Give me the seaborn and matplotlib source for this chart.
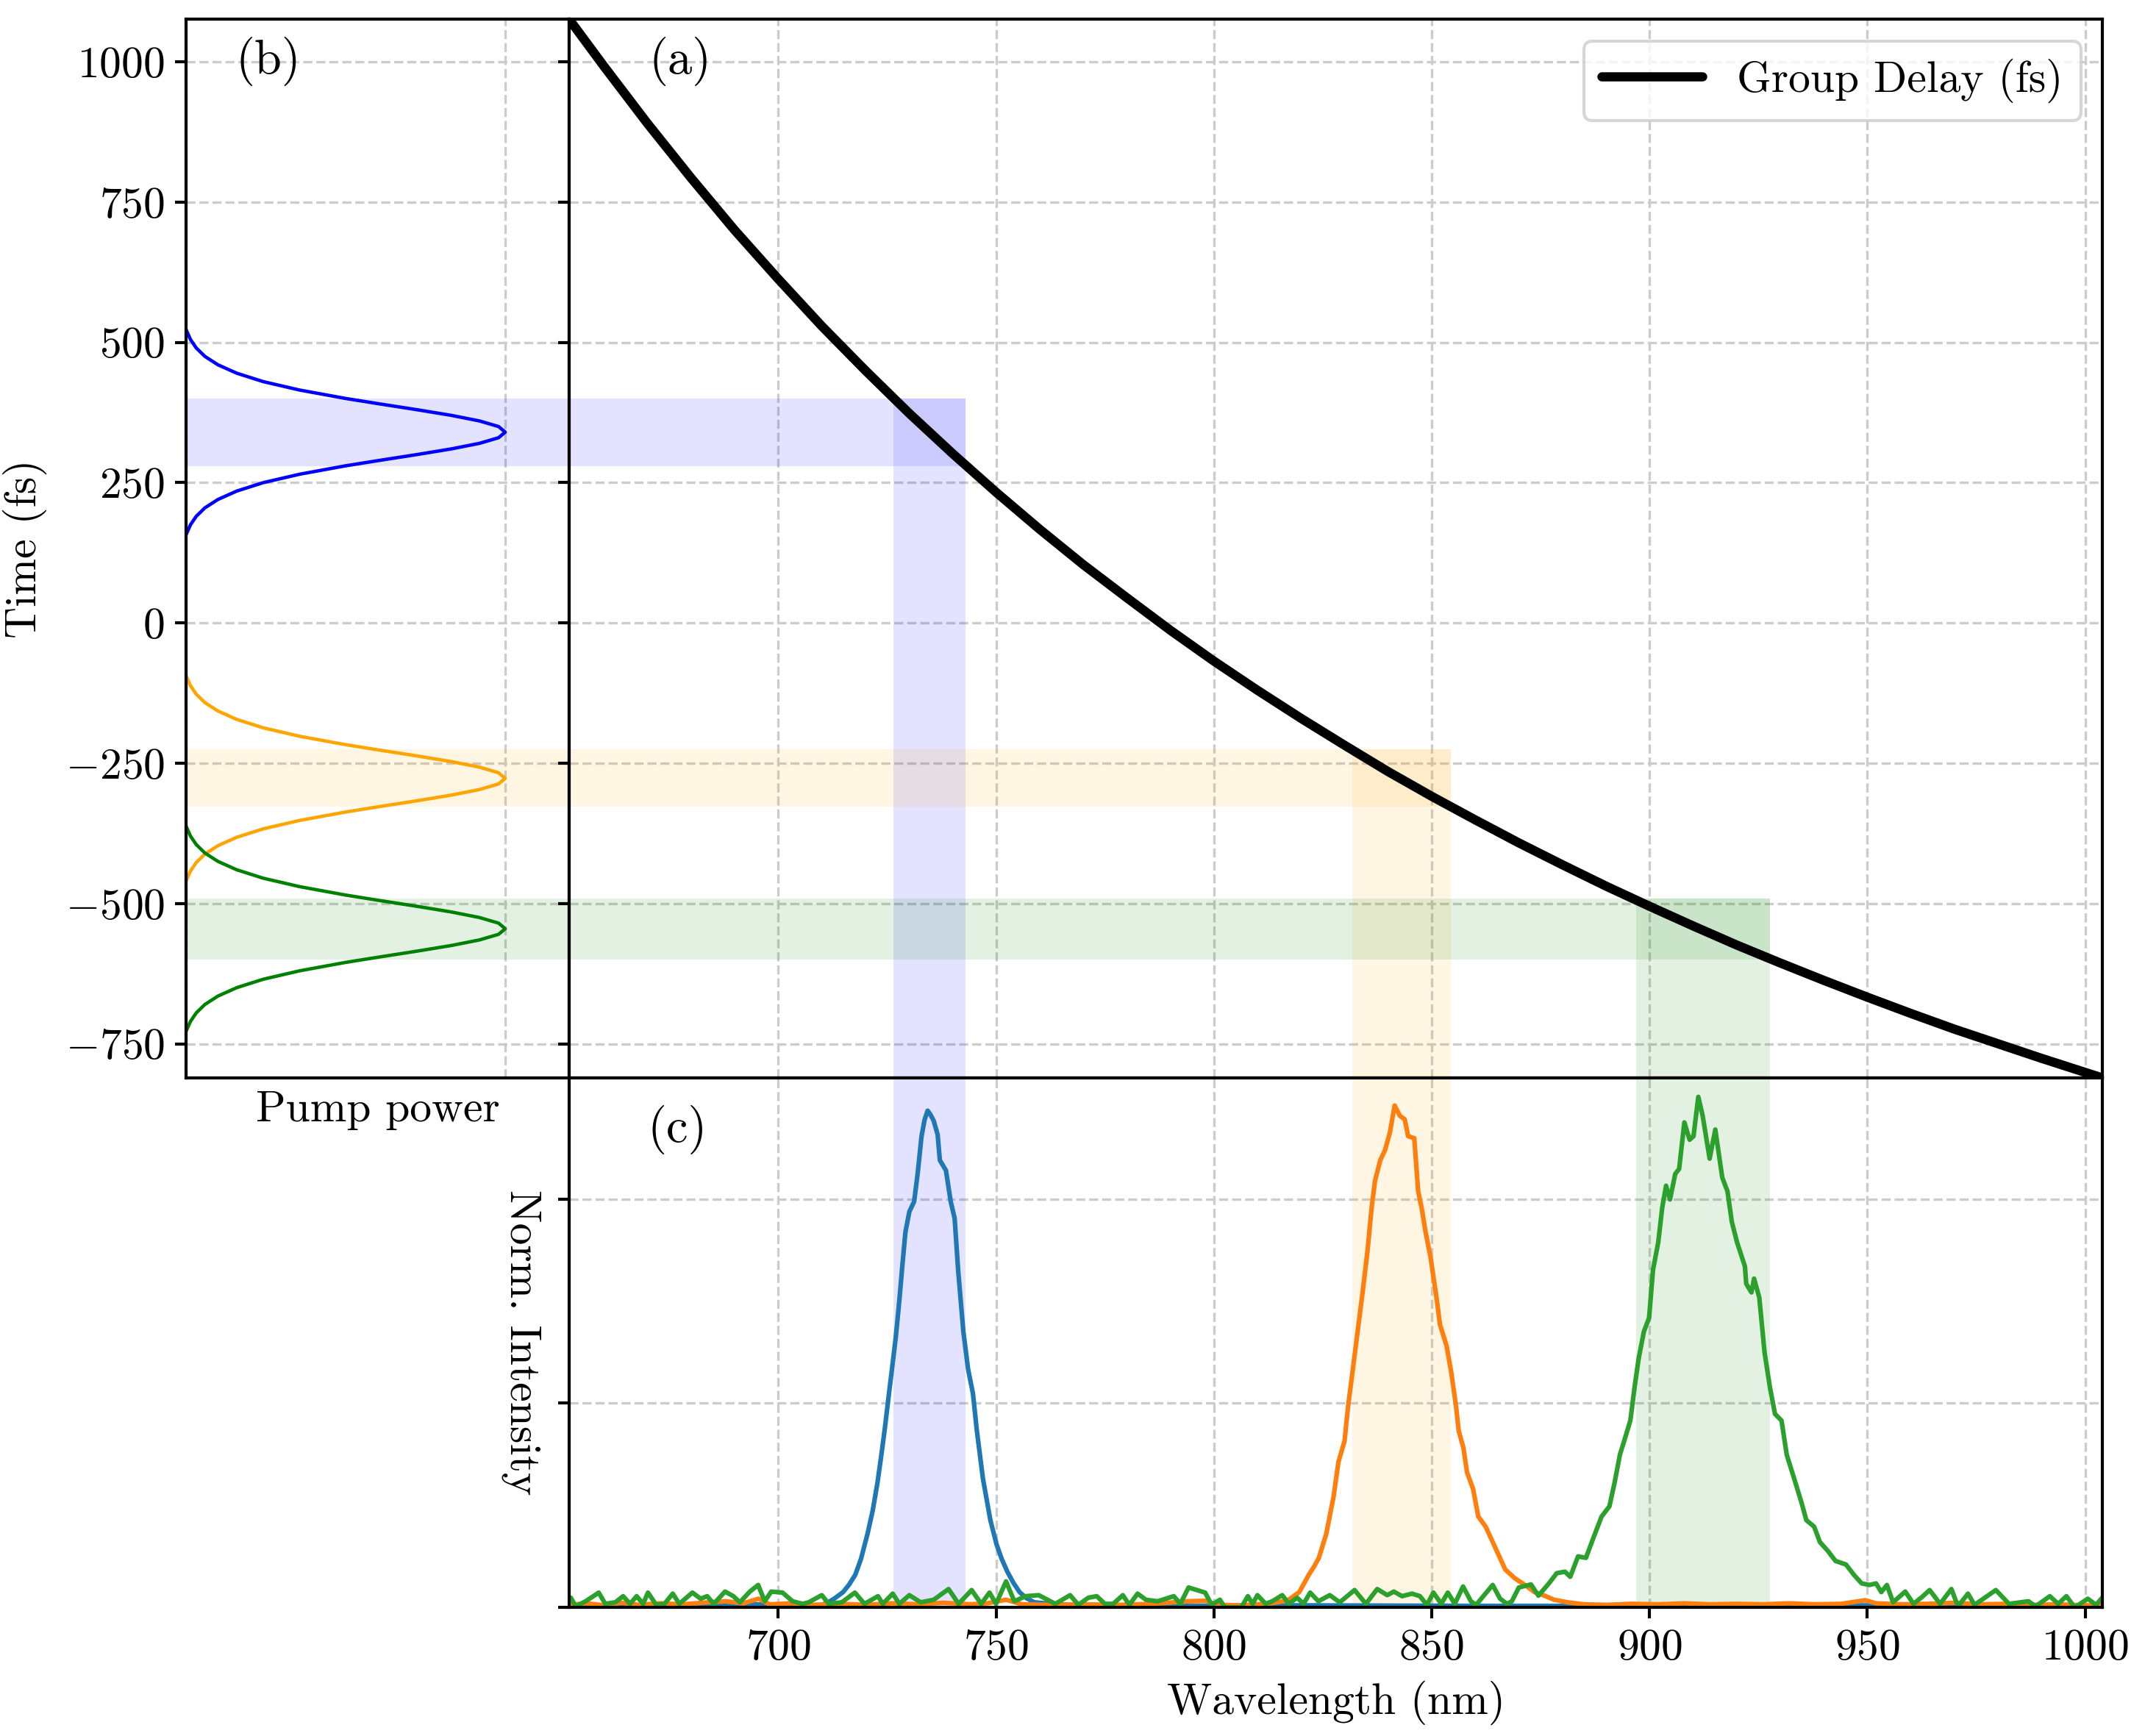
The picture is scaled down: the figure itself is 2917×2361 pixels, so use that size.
import numpy as np
import pandas as pd
import matplotlib
matplotlib.use('Agg')
import matplotlib.pyplot as plt
import seaborn as sns

# group delay of the dispersive element
gd_wl = [652, 660, 670, 680, 690, 700, 710, 720, 730, 740, 750, 760, 770, 780,
         790, 800, 810, 820, 830, 840, 850, 860, 870, 880, 890, 900, 910, 920,
         930, 940, 950, 960, 970, 980, 990, 1000, 1004]
gd_fs = [1076, 992, 890, 793, 700, 613, 529, 450, 374, 302, 233, 167, 104, 45,
         -13, -68, -120, -170, -218, -265, -309, -351, -392, -431, -469, -505,
         -540, -574, -606, -637, -667, -696, -724, -750, -776, -801, -811]

# pump pulses: time offset from pulse centre and normalised power
pump_offset = [-183, -165, -150, -135, -120, -105, -90, -75, -60, -50, -40, -30,
               -20, -10, 0, 10, 20, 30, 40, 50, 60, 75, 90, 105, 120, 135, 150,
               165, 183]
pump_shape = [0.0, 0.014, 0.032, 0.059, 0.100, 0.159, 0.242, 0.356, 0.500, 0.610,
              0.723, 0.830, 0.919, 0.979, 1.0, 0.979, 0.919, 0.830, 0.723, 0.610,
              0.500, 0.356, 0.242, 0.159, 0.100, 0.059, 0.032, 0.014, 0.0]
pump_centre = {'blue': 340, 'orange': -277, 'green': -545}

# selected bands: wavelength window and matching delay window
band_wl = {'blue': (726.5, 743.0), 'orange': (831.7, 854.4), 'green': (897.0, 927.6)}
band_t = {'blue': (279, 400), 'orange': (-328, -225), 'green': (-600, -491)}

# measured spectra (wavelength nm, normalised intensity)
blue_spec = [
    (652, .003), (665, .002), (680, .003), (695, .006), (705, .003), (710, .005),
    (711.5, .010), (713, .018), (714.9, .030), (716.3, .045), (717.7, .064),
    (719, .095), (720.5, .144), (721.7, .190), (722.8, .245), (723.7, .300),
    (724.5, .352), (725.3, .410), (726.1, .466), (727, .530), (727.8, .601),
    (728.5, .670), (729.2, .735), (730.1, .775), (731.2, .795), (732.0, .849),
    (732.9, .923), (733.6, .955), (734.3, .973), (734.9, .966), (735.7, .953),
    (736.6, .926), (737.1, .876), (737.8, .866), (738.5, .856), (739.6, .795),
    (740.5, .762), (741.3, .661), (742.5, .540), (743.6, .466), (744.7, .419),
    (745.6, .346), (747.0, .252), (748.7, .171), (750.1, .124), (751.3, .095),
    (752.6, .070), (754, .048), (755.4, .030), (757, .018), (758.8, .010),
    (762.7, .007), (770, .004), (790, .003), (820, .004), (860, .003),
    (900, .003), (950, .004), (1004, .003)]

orange_spec = [
    (652, .005), (656, .008), (660, .004), (664, .009), (668, .005), (673, .008),
    (678, .006), (684, .010), (688, .012), (692, .008), (695.5, .017), (698, .006),
    (703, .008), (708, .005), (714, .007), (720, .005), (726, .008), (732, .006),
    (738, .009), (744, .006), (748, .008), (752.3, .015), (756, .006), (762, .005),
    (770, .006), (778, .005), (786, .007), (794, .012), (798, .013), (801, .005),
    (806, .004), (810, .006), (813, .008), (816.8, .013), (818, .020),
    (819.6, .030), (821.8, .064), (823, .080), (824.1, .097), (825.8, .144),
    (827.5, .218), (828.6, .285), (830.0, .326), (830.8, .393), (832.0, .473),
    (833.1, .547), (834.2, .621), (835.3, .701), (836.2, .782), (837.0, .836),
    (838.2, .876), (839.3, .896), (840.4, .930), (841.5, .983), (842.7, .963),
    (843.8, .956), (844.6, .923), (846.0, .919), (846.9, .815), (847.7, .782),
    (848.6, .735), (849.7, .688), (851.1, .607), (851.9, .554), (853.4, .513),
    (854.5, .460), (855.6, .393), (856.2, .346), (857.3, .312), (858.1, .265),
    (859.5, .232), (860.7, .178), (862.4, .158), (864.6, .117), (866.9, .074),
    (869.1, .057), (871.4, .044), (873.6, .030), (875.9, .023), (878.1, .015),
    (881.2, .010), (885, .006), (890, .005), (896, .007), (902, .006),
    (908, .008), (914, .006), (920, .007), (926, .006), (932, .008), (938, .006),
    (944, .007), (949.5, .014), (952, .008), (958, .006), (964, .007),
    (970, .009), (976, .006), (982, .007), (988, .005), (994, .006),
    (1000, .004), (1004, .005)]

green_spec = [
    (652.4, .019), (653.5, .002), (655.8, .012), (658.8, .029), (660.3, .007),
    (662.6, .010), (664.4, .022), (666.0, .007), (667.5, .022), (669.0, .007),
    (670.1, .029), (672.0, .005), (673.9, .007), (675.8, .027), (677.3, .007),
    (680.3, .029), (682.2, .017), (683.7, .022), (685.2, .007), (687.8, .031),
    (689.7, .022), (691.2, .010), (693.5, .031), (695.4, .044), (696.9, .012),
    (698.4, .031), (701.0, .029), (703.3, .012), (705.6, .007), (707.0, .010),
    (710.0, .024), (711.6, .007), (714.6, .010), (717.6, .029), (719.8, .007),
    (722.9, .022), (724.0, .007), (726.3, .027), (727.8, .007), (730.1, .024),
    (732.7, .010), (735.7, .015), (739.1, .036), (741.4, .007), (744.4, .034),
    (746.6, .007), (748.5, .029), (750.0, .007), (752.3, .051), (754.2, .012),
    (756.8, .022), (759.8, .024), (763.6, .007), (767.0, .024), (768.9, .005),
    (771.2, .019), (773.1, .022), (775.0, .007), (776.9, .007), (779.1, .024),
    (780.6, .005), (782.5, .027), (784.4, .015), (787.1, .012), (790.8, .022),
    (792.3, .007), (794.2, .039), (796.1, .034), (798.0, .029), (799.5, .005),
    (801.4, .015), (802.5, .000), (806.3, .000), (807.8, .022), (808.9, .007),
    (810.0, .024), (811.9, .007), (813.4, .012), (815.7, .024), (817.2, .007),
    (819.1, .019), (820.6, .007), (822.1, .029), (824.0, .012), (826.6, .024),
    (828.9, .010), (832.3, .034), (834.9, .007), (837.5, .036), (839.8, .024),
    (841.3, .031), (843.2, .022), (845.5, .027), (847.3, .022), (848.9, .005),
    (850.4, .029), (852.2, .007), (853.7, .029), (855.3, .007), (857.2, .041),
    (859.0, .012), (860.2, .005), (864.0, .044), (865.7, .017), (867.3, .007),
    (868.4, .012), (870.0, .039), (872.8, .045), (874.5, .023), (876.9, .047),
    (878.7, .067), (880.6, .070), (881.8, .060), (883.6, .100), (885.4, .097),
    (887.2, .138), (889.0, .178), (890.8, .198), (892.0, .245), (893.2, .299),
    (894.4, .332), (895.6, .366), (896.6, .433), (897.5, .487), (898.7, .540),
    (899.9, .567), (900.8, .661), (902.0, .715), (902.9, .782), (903.8, .826),
    (904.7, .799), (905.9, .849), (906.8, .859), (908.0, .950), (909.2, .916),
    (910.1, .923), (911.2, 1.0), (912.2, .963), (913.8, .879), (915.1, .936),
    (916.7, .842), (917.9, .815), (918.9, .755), (920.1, .715), (921.9, .668),
    (922.2, .634), (923.4, .617), (924.0, .644), (925.2, .607), (926.4, .500),
    (927.6, .433), (928.8, .379), (930.3, .366), (931.5, .299), (933.0, .258),
    (934.9, .205), (936.0, .171), (937.8, .158), (939.1, .128), (940.9, .111),
    (942.7, .091), (945.1, .084), (946.9, .064), (948.7, .047), (950.5, .044),
    (952.0, .047), (953.2, .030), (954.5, .044), (955.9, .010), (958.7, .031),
    (960.6, .007), (962.5, .020), (964.3, .034), (966.7, .007), (969.3, .036),
    (970.8, .002), (973.1, .027), (974.6, .005), (979.5, .034), (982.5, .007),
    (987.0, .012), (988.6, .002), (991.9, .022), (993.8, .007), (995.7, .022),
    (997.6, .000), (1000.6, .017), (1002.5, .005), (1004.2, .022)]

wl_ticks = [700, 750, 800, 850, 900, 950, 1000]
t_ticks = [-750, -500, -250, 0, 250, 500, 750, 1000]

sns.set_theme(style='ticks', rc={
    'axes.grid': True, 'grid.linestyle': '--', 'grid.color': '#cccccc',
    'grid.linewidth': 0.8, 'axes.edgecolor': 'black', 'axes.linewidth': 1.0,
    'xtick.color': 'black', 'ytick.color': 'black', 'text.color': 'black',
    'axes.labelcolor': 'black', 'xtick.major.width': 1.0, 'ytick.major.width': 1.0,
})
plt.rcParams['font.family'] = ['cmr10', 'DejaVu Serif']
plt.rcParams['mathtext.fontset'] = 'cm'
plt.rcParams['axes.formatter.use_mathtext'] = True
plt.rcParams['axes.unicode_minus'] = True

fs = 14.3
fig = plt.figure(figsize=(2917 / 300, 2361 / 300), dpi=300)
ax_b = fig.add_axes([0.08673, 0.37904, 0.17857, 0.60993])
ax_a = fig.add_axes([0.26531, 0.37904, 0.71492, 0.60993], sharey=ax_b)
ax_c = fig.add_axes([0.26531, 0.07407, 0.71492, 0.30497], sharex=ax_a)

xmin, xmax = 652, 1004
tmin, tmax = -811, 1076

# (a) group delay
sns.lineplot(x=gd_wl, y=gd_fs, color='black', lw=3, ax=ax_a,
             label='Group Delay (fs)', sort=False, estimator=None, zorder=5)
for c in ['blue', 'orange', 'green']:
    w0, w1 = band_wl[c]
    t0, t1 = band_t[c]
    ax_a.fill_between([xmin, w1], t0, t1, color=c, alpha=0.11, lw=0)
    ax_a.fill_between([w0, w1], tmin, t1, color=c, alpha=0.11, lw=0)
ax_a.set_xlim(xmin, xmax)
ax_a.set_ylim(tmin, tmax)
ax_a.tick_params(axis='x', bottom=False, labelbottom=False)
ax_a.tick_params(axis='y', left=True, labelleft=False, length=3.5)
ax_a.legend(loc='upper right', fontsize=fs, handlelength=2.3, fancybox=True,
            edgecolor='#cccccc')
ax_a.text(0.052, 0.96, '(a)', transform=ax_a.transAxes, fontsize=16, va='center')

# (b) pump pulses
for c in ['blue', 'orange', 'green']:
    t = [pump_centre[c] + o for o in pump_offset]
    sns.lineplot(x=pump_shape, y=t, color=c, lw=1.1, ax=ax_b, sort=False,
                 estimator=None)
    ax_b.axhspan(band_t[c][0], band_t[c][1], color=c, alpha=0.11, lw=0)
ax_b.set_xlim(0, 1.2)
ax_b.set_xticks([0, 1.0])
ax_b.set_yticks(t_ticks)
ax_b.tick_params(axis='x', bottom=False, labelbottom=False)
ax_b.tick_params(axis='y', labelsize=fs, length=3.5)
ax_b.set_xlabel('Pump power', fontsize=fs)
ax_b.set_ylabel('Time (fs)', fontsize=fs, labelpad=6)
ax_b.text(0.129, 0.96, '(b)', transform=ax_b.transAxes, fontsize=16, va='center')

# (c) spectra
for spec, c in [(blue_spec, 'tab:blue'), (orange_spec, 'tab:orange'),
                (green_spec, 'tab:green')]:
    df = pd.DataFrame(spec, columns=['wl', 'I'])
    sns.lineplot(data=df, x='wl', y='I', color=c, lw=1.5, ax=ax_c, sort=False,
                 estimator=None)
for c in ['blue', 'orange', 'green']:
    ax_c.axvspan(band_wl[c][0], band_wl[c][1], color=c, alpha=0.11, lw=0)
ax_c.set_ylim(0, 1.037)
ax_c.set_yticks([0, 0.4, 0.8])
ax_c.set_xticks(wl_ticks)
ax_c.tick_params(axis='y', labelleft=False, length=3.5)
ax_c.tick_params(axis='x', labelsize=fs, length=3.5)
ax_c.set_xlabel('Wavelength (nm)', fontsize=fs)
ax_c.set_ylabel('Norm. Intensity', fontsize=fs, rotation=270, va='center')
ax_c.yaxis.set_label_coords(-0.031, 0.5)
ax_c.text(0.051, 0.902, '(c)', transform=ax_c.transAxes, fontsize=16, va='center')

for ax in (ax_a, ax_b, ax_c):
    ax.grid(True, linestyle='--', color='#cccccc', lw=0.8)
    ax.set_axisbelow(True)
    for s in ax.spines.values():
        s.set_visible(True)
        s.set_color('black')

fig.savefig('out.png', dpi=300)
